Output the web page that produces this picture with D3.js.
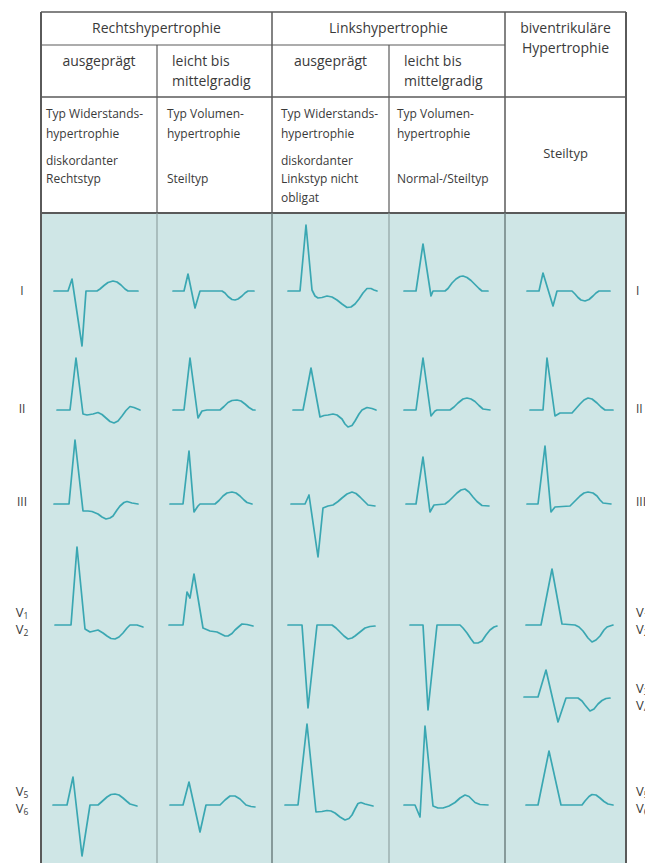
<!DOCTYPE html>
<html><head><meta charset="utf-8">
<script src="https://cdn.jsdelivr.net/npm/d3@7"></script>
<style>
body{margin:0;background:#fff}
svg{display:block}
text{font-family:"Open Sans","Noto Sans",sans-serif;fill:#3a3a3a}
</style></head>
<body><svg id="chart" width="645" height="863"></svg>
<script>
// ---------- DATA ----------
const groups = ["Rechtshypertrophie", "Linkshypertrophie"];
const bivLabel = ["biventrikuläre", "Hypertrophie"];
const degrees = [["ausgeprägt"], ["leicht bis", "mittelgradig"], ["ausgeprägt"], ["leicht bis", "mittelgradig"]];
const typeTexts = [
  [["Typ Widerstands-", 0], ["hypertrophie", 1], ["diskordanter", 2.35], ["Rechtstyp", 3.25]],
  [["Typ Volumen-", 0], ["hypertrophie", 1], ["Steiltyp", 3.25]],
  [["Typ Widerstands-", 0], ["hypertrophie", 1], ["diskordanter", 2.35], ["Linkstyp nicht", 3.25], ["obligat", 4.2]],
  [["Typ Volumen-", 0], ["hypertrophie", 1], ["Normal-/Steiltyp", 3.25]],
  [["Steiltyp", 2]]
];
const leads = ["I", "II", "III", "V1V2", "V3V4", "V5V6"];
const leftLabels = [["I"], ["II"], ["III"], [["V","1"],["V","2"]], null, [["V","5"],["V","6"]]];
const rightLabels = [["I"], ["II"], ["III"], [["V","1"],["V","2"]], [["V","3"],["V","4"]], [["V","5"],["V","6"]]];

// waveforms: [time, amplitude] per column, one entry per lead (null = no trace)
const rechtsAusgepraegt = [
  [[13,0],[27,0],[31,12],[41,-55],[45,0],[56,0],[59,2],[63,5.5],[67,8.5],[72,10],[76,9],[80,6],[84,2],[87,0],[97,0]],
  [[16,0],[29,0],[35,52],[42,-4],[46,-5],[52,-4],[57,-2.5],[61,-4.5],[65,-8],[69,-11.5],[73,-13],[77,-11],[81,-6],[85,-0.5],[89,3.5],[93,2.5],[99,0]],
  [[13,0],[28,0],[34,64],[42,-7],[47,-7],[51,-7.5],[57,-10],[61,-13],[65,-15],[69,-14],[72,-12],[76,-6],[79,-2],[83,1.5],[86,2.5],[91,1],[97,0]],
  [[14,0],[30,0],[36,78],[44,-4],[49,-7],[53,-6],[57,-5],[62,-8],[66,-11],[70,-13.5],[74,-14],[78,-12],[82,-8],[86,-3],[89,0],[96,0],[102,-2]],
  null,
  [[12,0],[26,0],[32,28],[41,-51],[49,0],[57,0],[61,3.5],[66,8],[70,10.5],[74,11],[78,10],[82,7],[86,3.5],[89,1],[96,-1]]
];
const rechtsLeicht = [
  [[16,0],[27,0],[31,17],[38,-17],[43,0],[65,0],[68,-2],[71,-5.5],[75,-8.5],[78,-9],[81,-8],[85,-5],[88,-2],[91,0],[97,0]],
  [[16,0],[27,0],[33,52],[41,-8],[45,-1],[50,0],[63,0],[67,3.5],[71,7.5],[75,9.5],[80,10],[84,9],[88,6],[92,2.5],[96,0],[98,0]],
  [[13,0],[26,0],[32,53],[37,-8],[41,-2],[43,0],[58,0],[62,3.5],[66,8],[70,11],[75,12],[79,11],[83,8],[87,4],[90,1.5],[95,0]],
  [[12,0],[26,0],[30,33],[33,27],[37,51],[46,-3],[53,-6],[60,-7],[64,-9],[68,-11],[71,-11],[75,-8.5],[78,-5],[82,-1.5],[85,1],[90,0.5],[96,-1]],
  null,
  [[13,0],[26,0],[32,23],[43,-27],[49,0],[63,0],[68,5],[73,9],[78,9],[83,6],[86,3],[89,0],[94,-1.5],[98,-2]]
];
const linksAusgepraegt = [
  [[16,0],[28,0],[34,66],[40,1],[43,-5],[46,-7],[50,-6.5],[55,-5],[60,-6],[65,-9],[70,-13],[75,-16.5],[79,-16],[83,-13],[87,-8],[91,-2],[95,2.5],[99,2.5],[102,1],[105,0]],
  [[21,0],[31,0],[39,42],[48,-7],[52,-5.5],[56,-5],[61,-4],[65,-5],[70,-9],[73,-14],[76,-17],[80,-15.5],[83,-11],[87,-4],[90,0],[95,2.5],[100,1.5],[104,0]],
  [[19,0],[33,0],[37,9],[46,-53],[51,-4],[56,-2],[61,-1],[66,2.5],[70,6],[75,10],[80,12],[84,10.5],[88,7],[92,3],[96,-1],[103,-2]],
  [[16,0],[30,0],[36,-83],[45,0],[60,0],[64,-3],[68,-7],[72,-11],[76,-14],[80,-13],[83,-11],[88,-7],[93,-3],[98,-1.5],[103,-1]],
  null,
  [[13,0],[26,0],[35,81],[44,-7],[50,-6.5],[55,-5.5],[59,-6],[63,-8],[68,-12],[73,-15],[77,-13.5],[80,-10],[83,-4],[86,1.5],[89,2.5],[93,1],[101,-1]]
];
const linksLeicht = [
  [[15,0],[27,0],[34,47],[42,-5],[44,0],[56,0],[59,2.5],[63,8],[67,12],[71,14.5],[74,15],[78,13.5],[82,10.5],[86,6.5],[90,2.5],[93,0],[99,0]],
  [[15,0],[27,0],[34,52],[42,-6],[46,-1],[48,0],[61,0],[65,3],[69,7],[74,11],[78,12],[82,11],[86,8.5],[90,4.5],[94,1],[101,0]],
  [[17,0],[27,0],[34,47],[41,-8],[45,-1],[56,0],[60,3],[64,7],[68,11],[72,14],[76,15],[80,12],[84,7],[88,2.5],[93,-1.5],[100,-2]],
  [[21,0],[34,0],[39,-85],[48,0],[71,0],[74,-3],[78,-8],[82,-14],[85,-18],[89,-18],[93,-16],[97,-10],[101,-5],[105,-2],[108,-1]],
  null,
  [[15,0],[26,0],[31,-12],[36,79],[44,-1],[49,-3],[54,-3],[60,-1],[66,2.5],[71,7],[76,10],[80,8.5],[83,5.5],[86,2.5],[91,0.5],[99,0]]
];
const biventrikulaer = [
  [[22,0],[34,0],[38,18],[48,-15],[52,0],[67,0],[70,-3],[73,-6.5],[76,-9],[80,-10],[84,-8.5],[88,-5],[91,-2],[94,0],[105,0]],
  [[25,0],[38,0],[42,52],[50,-6],[55,-3],[67,-3],[71,1.5],[75,6],[79,10],[83,12],[87,11],[92,7],[96,3],[100,0],[108,0]],
  [[22,0],[33,0],[40,58],[46,-8],[50,-3],[65,-2],[70,3],[75,8],[79,11],[83,12],[88,11],[92,8],[95,4],[98,1],[106,0]],
  [[21,0],[36,0],[47,56],[57,1],[70,0],[74,-2],[78,-6],[83,-13],[87,-17],[91,-15],[95,-11],[99,-5],[102,-2],[108,0]],
  [[19,0],[33,0],[41,27],[53,-25],[61,-1],[73,-1],[77,-4],[80,-8],[85,-14],[89,-12],[93,-7],[97,-3.5],[101,-1.5],[105,-1]],
  [[21,0],[33,0],[44,54],[56,0],[77,0],[80,4],[84,8.5],[87,10.5],[91,10],[95,7],[99,3.5],[103,1],[108,0]]
];
const columns = [rechtsAusgepraegt, rechtsLeicht, linksAusgepraegt, linksLeicht, biventrikulaer];

// ---------- LAYOUT ----------
const W = 645, H = 863;
const colEdges = [41, 157, 272, 389, 505, 626];
const yTop = 12, yRow1 = 45, yRow2 = 97, yBody = 213;
const baseY = {I: 291, II: 410, III: 504, V1V2: 625, V3V4: 697, V5V6: 805};
const labelY = {I: 292, II: 410, III: 503, V1V2: 622, V3V4: 698, V5V6: 801};
const teal = "#cfe6e6", traceColor = "#3aa7b2", dark = "#5a5a5a", mid = "#8a9c9c";

const svg = d3.select("#chart");

// body background
svg.append("rect").attr("x", colEdges[0]).attr("y", yBody).attr("width", colEdges[5]-colEdges[0]).attr("height", H - yBody).attr("fill", teal);

// grid lines
const g = svg.append("g").attr("fill", "none");
function ln(x1,y1,x2,y2,c,w){ g.append("line").attr("x1",x1).attr("y1",y1).attr("x2",x2).attr("y2",y2).attr("stroke",c).attr("stroke-width",w); }
ln(colEdges[0], yTop, colEdges[5], yTop, dark, 1.5);
ln(colEdges[0], yRow1, colEdges[4], yRow1, dark, 1.2);
ln(colEdges[0], yRow2, colEdges[5], yRow2, dark, 1.5);
ln(colEdges[0], yBody, colEdges[5], yBody, dark, 1.8);
ln(colEdges[0], yTop, colEdges[0], H, dark, 2);
ln(colEdges[5], yTop, colEdges[5], H, dark, 2);
ln(colEdges[2], yTop, colEdges[2], yBody, dark, 1.5);
ln(colEdges[4], yTop, colEdges[4], yBody, dark, 1.5);
ln(colEdges[1], yRow1, colEdges[1], yBody, dark, 1.2);
ln(colEdges[3], yRow1, colEdges[3], yBody, dark, 1.2);
ln(colEdges[2], yBody, colEdges[2], H, "#6f8080", 1.5);
ln(colEdges[4], yBody, colEdges[4], H, "#6f8080", 1.5);
ln(colEdges[1], yBody, colEdges[1], H, mid, 1.1);
ln(colEdges[3], yBody, colEdges[3], H, mid, 1.1);

// header texts
const tg = svg.append("g");
groups.forEach((t, i) => {
  tg.append("text").attr("x", (colEdges[i*2] + colEdges[i*2+2]) / 2).attr("y", 29)
    .attr("text-anchor", "middle").attr("dominant-baseline", "middle").attr("font-size", 14).text(t);
});
bivLabel.forEach((t, i) => {
  tg.append("text").attr("x", (colEdges[4] + colEdges[5]) / 2).attr("y", 29 + i * 20)
    .attr("text-anchor", "middle").attr("dominant-baseline", "middle").attr("font-size", 14).text(t);
});
degrees.forEach((lines, i) => {
  const centered = lines.length === 1;
  lines.forEach((t, j) => {
    tg.append("text")
      .attr("x", centered ? (colEdges[i] + colEdges[i+1]) / 2 : colEdges[i] + 15)
      .attr("y", 62 + j * 20)
      .attr("text-anchor", centered ? "middle" : "start")
      .attr("dominant-baseline", "middle").attr("font-size", 14).text(t);
  });
});
const typeOffsets = [5, 10, 9, 8];
typeTexts.forEach((lines, i) => {
  lines.forEach(([t, k]) => {
    const centered = i === 4;
    tg.append("text")
      .attr("x", centered ? (colEdges[i] + colEdges[i+1]) / 2 : colEdges[i] + typeOffsets[i])
      .attr("y", 115 + k * 20)
      .attr("text-anchor", centered ? "middle" : "start")
      .attr("dominant-baseline", "middle").attr("font-size", centered ? 13 : 12).text(t);
  });
});

// lead labels
function drawLabel(spec, x, y, anchor) {
  if (!spec) return;
  if (typeof spec[0] === "string") {
    svg.append("text").attr("x", x).attr("y", y).attr("text-anchor", anchor)
      .attr("dominant-baseline", "middle").attr("font-size", 12).attr("fill", "#444").text(spec[0]);
  } else {
    spec.forEach(([v, n], j) => {
      const t = svg.append("text").attr("x", x).attr("y", y + (j === 0 ? -8.5 : 8.5))
        .attr("text-anchor", anchor).attr("dominant-baseline", "middle").attr("font-size", 13).attr("fill", "#444");
      t.append("tspan").text(v);
      t.append("tspan").attr("font-size", 8.5).attr("dy", 3).text(n);
    });
  }
}
leads.forEach((l, r) => {
  drawLabel(leftLabels[r], 22, labelY[l], "middle");
  drawLabel(rightLabels[r], 636, labelY[l], "start");
});

// traces
const line = d3.line();
columns.forEach((col, c) => {
  const x = d3.scaleLinear().domain([0, colEdges[c+1] - colEdges[c]]).range([colEdges[c], colEdges[c+1]]);
  col.forEach((pts, r) => {
    if (!pts) return;
    const b = baseY[leads[r]];
    const y = d3.scaleLinear().domain([-100, 100]).range([b + 100, b - 100]);
    svg.append("path").datum(pts)
      .attr("d", line.x(d => x(d[0])).y(d => y(d[1])))
      .attr("fill", "none").attr("stroke", traceColor).attr("stroke-width", 1.7)
      .attr("stroke-linejoin", "round").attr("stroke-linecap", "round");
  });
});
</script></body></html>
